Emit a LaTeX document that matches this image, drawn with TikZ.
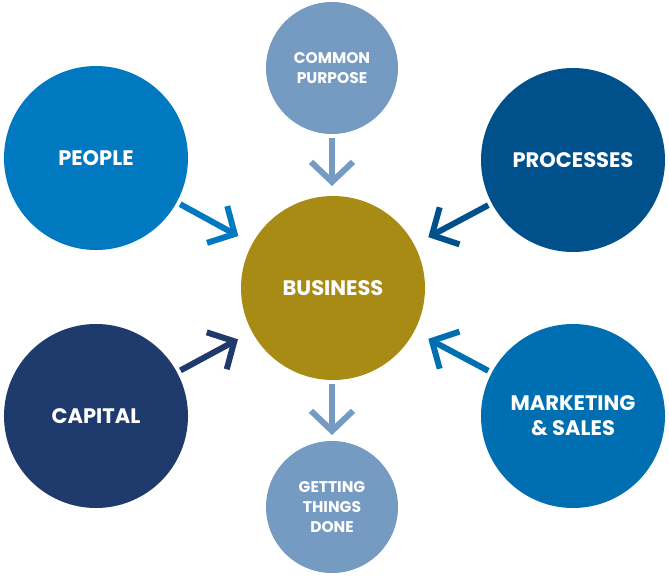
\documentclass[tikz,border=0pt]{standalone}
\usepackage{fontspec}
\setmainfont{Poppins}
\usepackage{xcolor}
\usepackage{tikz}
\usetikzlibrary{arrows.meta}

\definecolor{purposeblue}{RGB}{117,155,194}
\definecolor{peopleblue}{RGB}{0,121,193}
\definecolor{processblue}{RGB}{0,81,139}
\definecolor{businessgold}{RGB}{168,139,20}
\definecolor{capitalnavy}{RGB}{31,58,109}
\definecolor{salesblue}{RGB}{0,111,178}

\begin{document}
\begin{tikzpicture}[x=1pt,y=-1pt,
  bigdisc/.style={circle,minimum size=184pt,inner sep=0pt,outer sep=0pt,text=white,align=center,
    font=\fontsize{21}{25}\selectfont\bfseries},
  smalldisc/.style={circle,minimum size=132pt,inner sep=0pt,outer sep=0pt,text=white,align=center,
    font=\fontsize{15.5}{20}\selectfont\bfseries},
  feed/.style={line width=6pt,-{Straight Barb[length=20pt,width=42pt]}}]
\useasboundingbox (0,0) rectangle (669,576);
\node[smalldisc,fill=purposeblue] (purpose) at (332,68) {COMMON\\PURPOSE};
\node[bigdisc,fill=peopleblue] (people) at (96,158) {PEOPLE};
\node[bigdisc,fill=processblue] (processes) at (573,160) {PROCESSES};
\node[bigdisc,fill=businessgold] (business) at (333,288) {BUSINESS};
\node[bigdisc,fill=capitalnavy] (capital) at (96,416) {CAPITAL};
\node[bigdisc,fill=salesblue] (sales) at (573,416) {MARKETING\\\& SALES};
\node[smalldisc,fill=purposeblue] (done) at (332,507) {GETTING\\THINGS\\DONE};
\draw[feed,purposeblue,shorten <=4pt,shorten >=10pt] (purpose) -- (purpose|-business.north);
\draw[feed,peopleblue,shorten <=4pt,shorten >=16pt] (people) -- (business);
\draw[feed,processblue,shorten <=4pt,shorten >=16pt] (processes) -- (business);
\draw[feed,capitalnavy,shorten <=4pt,shorten >=16pt] (capital) -- (business);
\draw[feed,salesblue,shorten <=4pt,shorten >=16pt] (sales) -- (business);
\draw[feed,purposeblue,shorten <=4pt,shorten >=6pt] (business.south-|done) -- (done);
\end{tikzpicture}
\end{document}
